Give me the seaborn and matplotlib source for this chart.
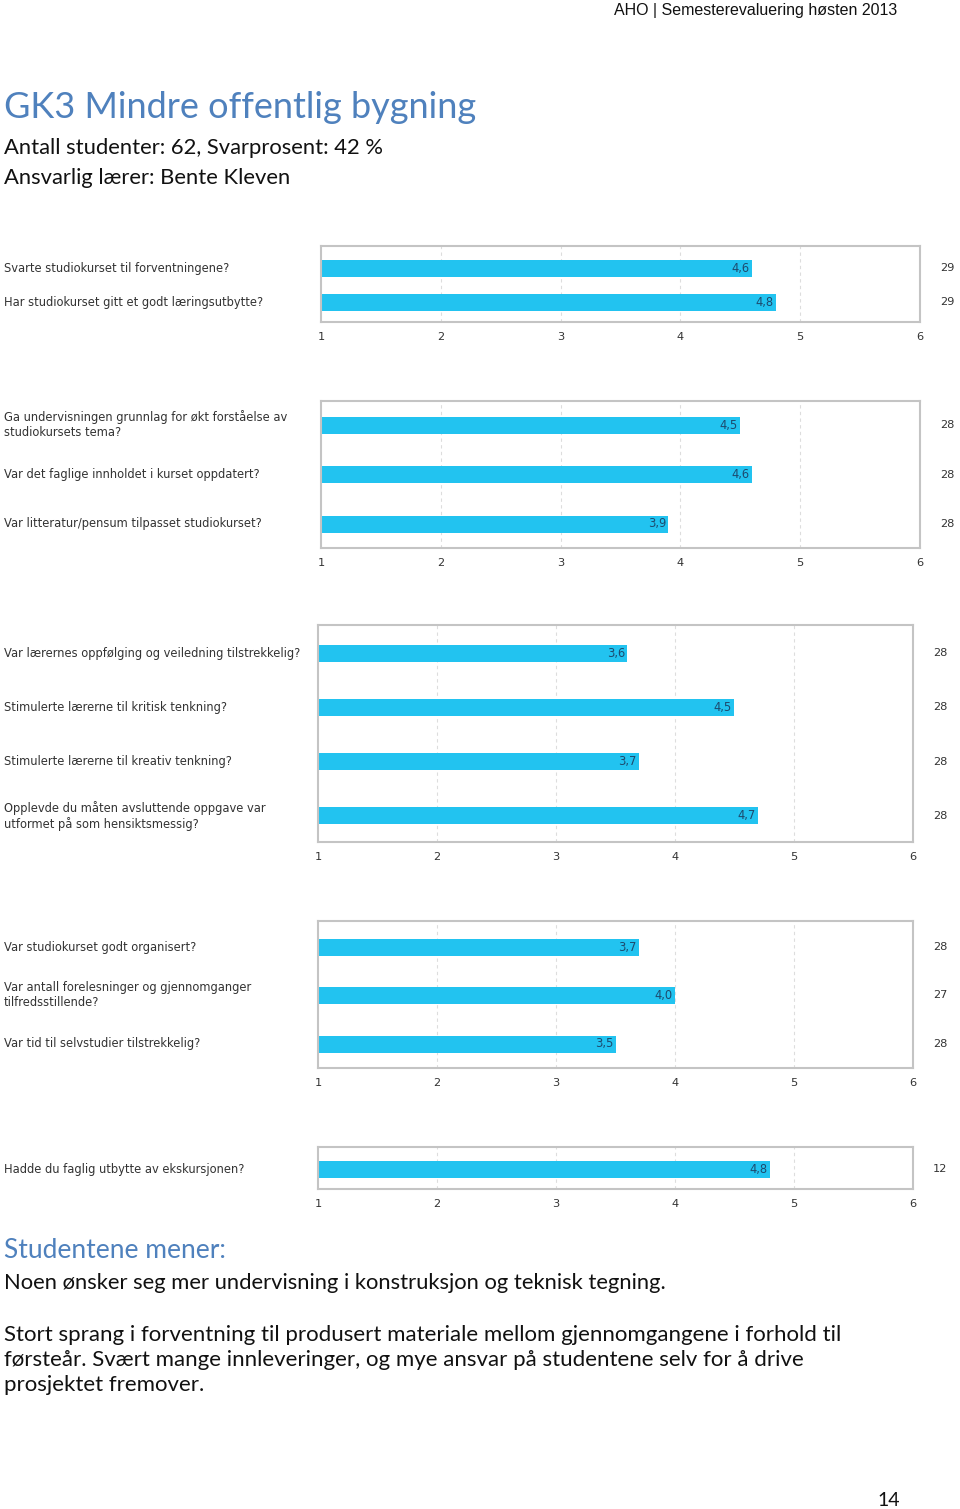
import matplotlib
matplotlib.use("Agg")
from matplotlib import pyplot as plt
from matplotlib import transforms
import seaborn as sns
import pandas as pd

# survey data, one list per block of questions
q1 = ["Svarte studiokurset til forventningene?",
      "Har studiokurset gitt et godt læringsutbytte?"]
v1 = [4.6, 4.8]
n1 = [29, 29]

q2 = ["Ga undervisningen grunnlag for økt forståelse av\nstudiokursets tema?",
      "Var det faglige innholdet i kurset oppdatert?",
      "Var litteratur/pensum tilpasset studiokurset?"]
v2 = [4.5, 4.6, 3.9]
n2 = [28, 28, 28]

q3 = ["Var lærernes oppfølging og veiledning tilstrekkelig?",
      "Stimulerte lærerne til kritisk tenkning?",
      "Stimulerte lærerne til kreativ tenkning?",
      "Opplevde du måten avsluttende oppgave var\nutformet på som hensiktsmessig?"]
v3 = [3.6, 4.5, 3.7, 4.7]
n3 = [28, 28, 28, 28]

q4 = ["Var studiokurset godt organisert?",
      "Var antall forelesninger og gjennomganger\ntilfredsstillende?",
      "Var tid til selvstudier tilstrekkelig?"]
v4 = [3.7, 4.0, 3.5]
n4 = [28, 27, 28]

q5 = ["Hadde du faglig utbytte av ekskursjonen?"]
v5 = [4.8]
n5 = [12]

scale_ticks = [1, 2, 3, 4, 5, 6]

BAR = "#22c3f0"
FRAME = "#c4c4c4"
TXT = "#333333"
BLUE = "#4f81bd"

W, H = 960, 1509
sns.set_theme(style="white")
plt.rcParams["font.family"] = ["DejaVu Sans"]

fig = plt.figure(figsize=(W / 100, H / 100), dpi=100)


def panel(questions, values, counts, left, right, top, bottom, bar_px, top_px, row_px):
    ax = fig.add_axes([left / W, 1 - bottom / H, (right - left) / W, (bottom - top) / H])
    df = pd.DataFrame({"q": questions, "v": values})
    sns.barplot(data=df, x="v", y="q", orient="h", color=BAR, saturation=1,
                width=bar_px / row_px, ax=ax, edgecolor="none")
    ax.set_xlim(1, 6)
    lo = -top_px / row_px
    hi = lo + (bottom - top) / row_px
    ax.set_ylim(hi, lo)
    ax.set_xticks(scale_ticks)
    ax.set_xticklabels([str(t) for t in scale_ticks], fontsize=8.2, color=TXT)
    ax.tick_params(axis="x", length=0, pad=7)
    ax.set_yticks([])
    ax.set_xlabel("")
    ax.set_ylabel("")
    for t in scale_ticks[1:-1]:
        ax.axvline(t, color="#dddddd", lw=0.8, ls=(0, (3, 3)), zorder=0)
    for s in ax.spines.values():
        s.set_color(FRAME)
        s.set_linewidth(1.5)
    tr = transforms.blended_transform_factory(fig.transFigure, ax.transData)
    for i, (q, v, n) in enumerate(zip(questions, values, counts)):
        ax.text(4 / W, i, q, transform=tr, ha="left", va="center",
                fontsize=8.3, color=TXT, linespacing=1.2)
        ax.text(v - 0.02, i, f"{v:.1f}".replace(".", ","), ha="right", va="center",
                fontsize=8.3, color="#1d4a6e")
        ax.annotate(str(n), xy=(1, i), xycoords=("axes fraction", "data"),
                    xytext=(27 * 0.72, 0), textcoords="offset points",
                    ha="center", va="center", fontsize=8.2, color=TXT)
    return ax


panel(q1, v1, n1, 321, 920, 246, 322, 17, 22, 34)
panel(q2, v2, n2, 321, 920, 401, 548, 17, 24, 49.5)
panel(q3, v3, n3, 318, 913, 625, 842, 17, 28, 54.3)
panel(q4, v4, n4, 318, 913, 921, 1068, 17, 26, 48.5)
panel(q5, v5, n5, 318, 913, 1147, 1189, 17, 22, 42)

# page texts
fig.text(897 / W, 1 - 10 / H, "AHO | Semesterevaluering høsten 2013",
         ha="right", va="center", fontsize=11.5, color="#111111",
         family=["Liberation Sans Narrow", "Liberation Sans"])
fig.text(4 / W, 1 - 108 / H, "GK3 Mindre offentlig bygning", ha="left", va="center",
         fontsize=26, color=BLUE, family=["Lato"])
fig.text(4 / W, 1 - 148 / H, "Antall studenter: 62, Svarprosent: 42 %", ha="left",
         va="center", fontsize=15.8, color="#111111", family=["Lato"])
fig.text(4 / W, 1 - 178 / H, "Ansvarlig lærer: Bente Kleven", ha="left",
         va="center", fontsize=15.8, color="#111111", family=["Lato"])

fig.text(4 / W, 1 - 1251 / H, "Studentene mener:", ha="left", va="center",
         fontsize=19, color=BLUE, family=["Lato"])
fig.text(4 / W, 1 - 1283 / H,
         "Noen ønsker seg mer undervisning i konstruksjon og teknisk tegning.",
         ha="left", va="center", fontsize=15.8, color="#111111", family=["Lato"])
fig.text(4 / W, 1 - 1360 / H,
         "Stort sprang i forventning til produsert materiale mellom gjennomgangene i forhold til\n"
         "førsteår. Svært mange innleveringer, og mye ansvar på studentene selv for å drive\n"
         "prosjektet fremover.",
         ha="left", va="center", fontsize=16, color="#111111", family=["Lato"],
         linespacing=1.3)
fig.text(889 / W, 1 - 1500 / H, "14", ha="center", va="center", fontsize=14,
         color="#111111", family=["Lato"])

fig.savefig("out.png", dpi=100, facecolor="white")
